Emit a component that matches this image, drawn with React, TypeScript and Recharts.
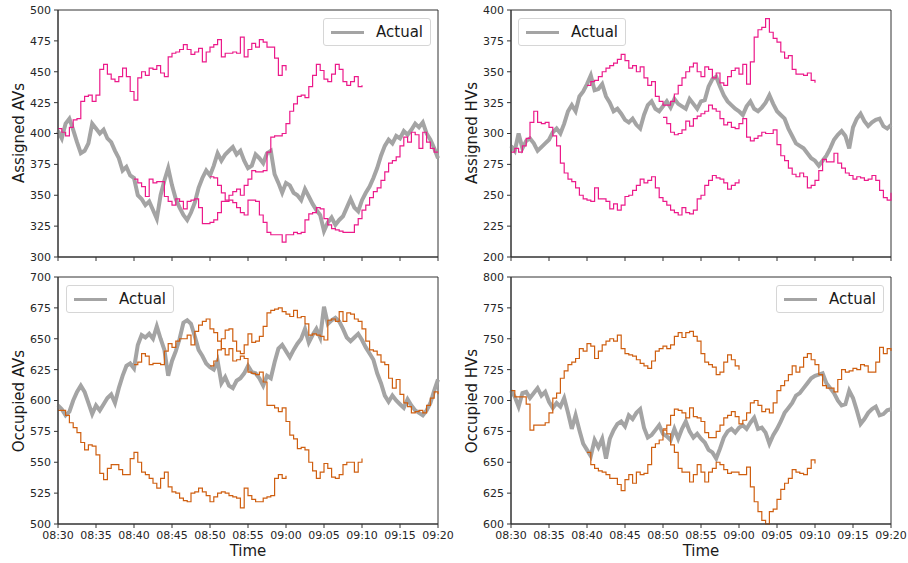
import React from 'react';
import { LineChart, Line, XAxis, YAxis, ReferenceArea } from 'recharts';

// time axis: minutes after 08:30, sampled every half minute
const STEP_MIN = 0.5;
const PRED_START_MIN = [0, 10, 20];
const TIME_TICKS = [0, 5, 10, 15, 20, 25, 30, 35, 40, 45, 50];
const TIME_LABELS = ['08:30', '08:35', '08:40', '08:45', '08:50', '08:55', '09:00', '09:05', '09:10', '09:15', '09:20'];

const ASSIGNED_AV_TICKS = [300, 325, 350, 375, 400, 425, 450, 475, 500];
const ASSIGNED_HV_TICKS = [200, 225, 250, 275, 300, 325, 350, 375, 400];
const OCCUPIED_AV_TICKS = [500, 525, 550, 575, 600, 625, 650, 675, 700];
const OCCUPIED_HV_TICKS = [600, 625, 650, 675, 700, 725, 750, 775, 800];

// ---- Assigned AVs ----
const assignedAvActual = [
  402, 396, 408, 412, 403, 393, 384, 386, 392, 408,
  404, 400, 403, 396, 393, 386, 380, 370, 373, 366,
  364, 350, 347, 342, 345, 338, 331, 350, 362, 372,
  358, 347, 340, 334, 330, 336, 344, 356, 364, 370,
  366, 374, 384, 378, 383, 386, 389, 383, 386, 378,
  372, 374, 383, 380, 376, 384, 386, 367, 360, 352,
  360, 358, 352, 350, 346, 355, 349, 343, 338, 334,
  321, 328, 332, 326, 330, 333, 340, 347, 340, 337,
  346, 352, 357, 364, 372, 382, 390, 395, 392, 398,
  396, 402, 399, 403, 408, 405, 409, 400, 395, 388,
  380,
];
const assignedAvPredA = [
  404, 401, 398, 405, 411, 412, 426, 430, 431, 426,
  431, 452, 456, 448, 444, 442, 446, 453, 446, 434,
  427, 445, 450, 447, 453, 452, 455, 449, 446, 462,
  465, 466, 468, 472, 468, 464, 466, 469, 458, 466,
  470, 472, 476, 462, 465, 465, 466, 465, 478, 462,
  468, 473, 470, 476, 474, 470, 470, 461, 447, 455,
  451,
];
const assignedAvPredB = [
  363, 360, 357, 349, 363, 360, 361, 361, 349, 345,
  342, 347, 345, 339, 345, 346, 347, 340, 327, 327,
  328, 330, 336, 345, 345, 350, 353, 355, 350, 358,
  363, 370, 369, 369, 370, 385, 397, 398, 398, 400,
  408, 418, 424, 430, 431, 429, 438, 447, 456, 451,
  444, 442, 448, 456, 452, 442, 439, 442, 446, 438,
  439,
];
const assignedAvPredC = [
  365, 364, 358, 352, 346, 346, 344, 340, 336, 334,
  346, 346, 345, 334, 328, 320, 318, 318, 318, 312,
  318, 318, 320, 319, 320, 330, 335, 336, 340, 339,
  331, 326, 323, 322, 321, 320, 320, 320, 326, 331,
  338, 342, 348, 353, 356, 362, 369, 376, 378, 381,
  390, 397, 393, 401, 399, 388, 401, 393, 388, 385,
  385,
];

// ---- Assigned HVs ----
const assignedHvActual = [
  290, 286, 300, 288, 294, 296, 292, 286, 289, 292,
  295, 301, 304, 300, 308, 318, 323, 318, 330, 334,
  340, 347, 335, 336, 340, 330, 325, 318, 320, 316,
  311, 309, 312, 307, 304, 315, 323, 326, 320, 318,
  322, 326, 321, 328, 324, 322, 320, 328, 324, 320,
  326, 327, 338, 344, 346, 338, 331, 326, 323, 320,
  318, 315, 322, 326, 320, 318, 321, 325, 331, 324,
  318, 315, 312, 304, 298, 292, 290, 288, 284, 280,
  278, 274, 278, 282, 288, 295, 299, 302, 298, 288,
  305, 312, 316, 310, 306, 309, 311, 312, 306, 304,
  307,
];
const assignedHvPredA = [
  285, 288, 285, 290, 296, 309, 318, 309, 308, 309,
  305, 298, 290, 276, 268, 263, 261, 256, 250, 247,
  246, 245, 256, 247, 247, 245, 239, 243, 238, 242,
  249, 250, 254, 258, 263, 260, 262, 265, 256, 248,
  245, 242, 238, 236, 234, 240, 236, 235, 238, 247,
  250, 258, 262, 266, 264, 263, 260, 255, 258, 260,
  263,
];
const assignedHvPredB = [
  339, 342, 343, 346, 350, 353, 355, 357, 360, 364,
  359, 353, 355, 350, 354, 345, 339, 342, 330, 326,
  323, 323, 326, 332, 339, 345, 350, 354, 357, 350,
  346, 354, 352, 345, 349, 341, 339, 346, 351, 353,
  348, 356, 340, 358, 378, 384, 386, 393, 382, 377,
  374, 366, 361, 363, 352, 348, 348, 347, 349, 343,
  341,
];
const assignedHvPredC = [
  313, 308, 301, 299, 300, 303, 310, 306, 312, 314,
  316, 318, 323, 320, 318, 312, 307, 309, 305, 304,
  308, 312, 297, 294, 296, 298, 301, 300, 300, 303,
  291, 282, 278, 272, 267, 265, 268, 265, 256, 258,
  262, 270, 279, 277, 277, 284, 276, 272, 268, 266,
  263, 265, 264, 262, 263, 266, 262, 254, 248, 246,
  252,
];

// ---- Occupied AVs ----
const occupiedAvActual = [
  596, 593, 588, 591, 600, 607, 612, 607, 598, 589,
  596, 592, 597, 602, 605, 598, 610, 620, 628, 630,
  626, 645, 653, 651, 654, 650, 660, 650, 641, 620,
  632, 640, 650, 663, 665, 662, 652, 641, 636, 630,
  627, 625, 632, 614, 619, 612, 610, 616, 618, 622,
  628, 623, 622, 618, 612, 620, 618, 631, 642, 645,
  640, 635, 641, 646, 650, 658, 647, 653, 658, 651,
  676, 662, 665, 667, 664, 658, 651, 648, 651, 654,
  649, 643, 638, 633, 622, 614, 604, 599, 604, 600,
  597, 594, 601, 596, 592, 590, 588, 592, 598, 608,
  617,
];
const occupiedAvPredA = [
  592, 592, 588, 582, 578, 574, 566, 560, 564, 563,
  556, 541, 536, 545, 548, 548, 544, 540, 540, 553,
  558, 550, 542, 540, 537, 533, 529, 537, 542, 530,
  526, 525, 521, 519, 518, 525, 526, 529, 526, 523,
  518, 522, 525, 526, 525, 523, 522, 521, 513, 529,
  523, 520, 518, 518, 521, 522, 523, 537, 540, 537,
  539,
];
const occupiedAvPredB = [
  629, 631, 638, 636, 629, 630, 630, 629, 640, 646,
  643, 648, 650, 650, 653, 645, 656, 661, 664, 666,
  658, 655, 648, 642, 637, 642, 632, 633, 636, 634,
  623, 622, 621, 623, 615, 596, 596, 594, 591, 594,
  583, 572, 569, 561, 562, 560, 550, 543, 537, 542,
  549, 545, 538, 537, 540, 548, 550, 550, 542, 550,
  553,
];
const occupiedAvPredC = [
  628, 632, 641, 650, 657, 658, 648, 640, 638, 645,
  654, 647, 648, 652, 660, 671, 673, 674, 675, 672,
  670, 668, 673, 667, 668, 662, 653, 654, 653, 652,
  649, 665, 666, 664, 672, 664, 671, 670, 666, 664,
  658, 648, 641, 640, 637, 631, 629, 618, 610, 617,
  605, 598, 595, 590, 591, 592, 590, 596, 602, 607,
  605,
];

// ---- Occupied HVs ----
const occupiedHvActual = [
  708, 703, 695, 706, 707, 702, 706, 710, 704, 707,
  699, 694, 698, 695, 702, 690, 677, 688, 676, 665,
  660, 655, 668, 662, 669, 653, 669, 676, 681, 683,
  679, 688, 685, 690, 693, 678, 670, 672, 676, 680,
  673, 671, 668, 677, 669, 677, 683, 675, 670, 673,
  669, 666, 660, 658, 653, 661, 670, 675, 677, 674,
  678, 680, 677, 682, 686, 677, 678, 674, 665, 672,
  677, 683, 690, 694, 698, 704, 706, 710, 714, 718,
  720, 721, 722, 714, 710, 706, 700, 696, 697, 708,
  702, 692, 681, 685, 690, 693, 695, 688, 689, 692,
  693,
];
const occupiedHvPredA = [
  708, 703, 703, 703, 697, 676, 680, 680, 680, 682,
  690, 702, 706, 718, 724, 729, 731, 734, 742, 740,
  746, 744, 734, 740, 745, 748, 750, 748, 753, 742,
  738, 737, 736, 733, 730, 728, 726, 732, 740, 742,
  744, 742, 745, 752, 755, 751, 755, 756, 752, 748,
  738, 731, 729, 727, 721, 723, 731, 737, 733, 728,
  725,
];
const occupiedHvPredB = [
  658, 648, 645, 643, 642, 640, 637, 637, 632, 627,
  636, 640, 633, 642, 640, 641, 648, 662, 665, 668,
  676, 673, 664, 658, 645, 642, 642, 634, 640, 648,
  642, 634, 642, 645, 650, 648, 644, 641, 642, 642,
  640, 640, 646, 630, 618, 610, 603, 600, 610, 612,
  620, 628, 633, 637, 644, 642, 641, 640, 645, 652,
  649,
];
const occupiedHvPredC = [
  677, 680, 688, 693, 692, 690, 686, 694, 687, 686,
  683, 674, 670, 670, 675, 680, 686, 688, 691, 687,
  681, 684, 690, 698, 700, 696, 691, 693, 690, 698,
  708, 712, 716, 721, 728, 723, 727, 735, 738, 733,
  729, 721, 712, 710, 710, 707, 717, 725, 723, 724,
  726, 725, 729, 728, 723, 723, 731, 743, 738, 742,
  740,
];

const GRAY = '#a4a4a4';
const PINK = '#ec1a8a';
const ORANGE = '#cf5f10';
const AXIS = '#333333';
const FONT = '"DejaVu Sans", sans-serif';

function buildRows(actual: number[], preds: number[][]) {
  return actual.map((v, i) => {
    const row: Record<string, number | null> = { t: i * STEP_MIN, actual: v };
    preds.forEach((p, k) => {
      const j = i - PRED_START_MIN[k] / STEP_MIN;
      row['p' + k] = j >= 0 && j < p.length ? p[j] : null;
    });
    return row;
  });
}

type PanelProps = {
  left: number;
  top: number;
  width: number;
  height: number;
  marginRight: number;
  xAxisHeight: number;
  showXLabels: boolean;
  rows: Record<string, number | null>[];
  yTicks: number[];
  color: string;
};

function Panel(props: PanelProps) {
  const { left, top, width, height, marginRight, xAxisHeight, showXLabels, rows, yTicks, color } = props;
  const yMin = yTicks[0];
  const yMax = yTicks[yTicks.length - 1];
  return (
    <div style={{ position: 'absolute', left, top, width, height }}>
      <LineChart width={width} height={height} data={rows} margin={{ top: 10, right: marginRight, left: 8, bottom: 0 }} style={{ overflow: 'visible' }}>
        <XAxis
          dataKey="t"
          type="number"
          domain={[0, 50]}
          ticks={TIME_TICKS}
          interval={0}
          height={xAxisHeight}
          tickSize={4}
          tickMargin={3}
          tickFormatter={(v: number) => (showXLabels ? TIME_LABELS[TIME_TICKS.indexOf(v)] : '')}
          tick={{ fontSize: 11, fill: '#262626', fontFamily: FONT }}
          tickLine={{ stroke: AXIS }}
          axisLine={{ stroke: AXIS }}
        />
        <YAxis
          type="number"
          domain={[yMin, yMax]}
          ticks={yTicks}
          interval={0}
          width={50}
          tickSize={4}
          tickMargin={3}
          tick={{ fontSize: 11, fill: '#262626', fontFamily: FONT }}
          tickLine={{ stroke: AXIS }}
          axisLine={{ stroke: AXIS }}
        />
        <Line type="linear" dataKey="actual" stroke={GRAY} strokeWidth={4} strokeLinejoin="miter" dot={false} isAnimationActive={false} />
        <Line type="stepAfter" dataKey="p0" stroke={color} strokeWidth={1.2} dot={false} isAnimationActive={false} connectNulls={false} />
        <Line type="stepAfter" dataKey="p1" stroke={color} strokeWidth={1.2} dot={false} isAnimationActive={false} connectNulls={false} />
        <Line type="stepAfter" dataKey="p2" stroke={color} strokeWidth={1.2} dot={false} isAnimationActive={false} connectNulls={false} />
        <ReferenceArea x1={0} x2={50} y1={yMin} y2={yMax} fill="none" fillOpacity={0} stroke={AXIS} strokeWidth={1} />
      </LineChart>
    </div>
  );
}

function LegendBox({ left, top }: { left: number; top: number }) {
  return (
    <div
      style={{
        position: 'absolute',
        left,
        top,
        width: 106,
        height: 26,
        border: '1px solid #d6d6d6',
        borderRadius: 3,
        background: 'rgba(255,255,255,0.8)',
        display: 'flex',
        alignItems: 'center',
        fontFamily: FONT,
        fontSize: 15,
        color: '#1a1a1a',
      }}
    >
      <div style={{ marginLeft: 7, width: 33, height: 3, background: GRAY }} />
      <div style={{ marginLeft: 12, lineHeight: '26px' }}>Actual</div>
    </div>
  );
}

function YTitle({ text, cx, cy }: { text: string; cx: number; cy: number }) {
  return (
    <div
      style={{
        position: 'absolute',
        left: cx - 70,
        top: cy - 10,
        width: 140,
        height: 20,
        lineHeight: '20px',
        textAlign: 'center',
        transform: 'rotate(-90deg)',
        fontFamily: FONT,
        fontSize: 15,
        color: '#1a1a1a',
        whiteSpace: 'nowrap',
      }}
    >
      {text}
    </div>
  );
}

function XTitle({ text, cx, cy }: { text: string; cx: number; cy: number }) {
  return (
    <div
      style={{
        position: 'absolute',
        left: cx - 40,
        top: cy - 10,
        width: 80,
        height: 20,
        lineHeight: '20px',
        textAlign: 'center',
        fontFamily: FONT,
        fontSize: 15,
        color: '#1a1a1a',
      }}
    >
      {text}
    </div>
  );
}

export default function App() {
  const tl = buildRows(assignedAvActual, [assignedAvPredA, assignedAvPredB, assignedAvPredC]);
  const tr = buildRows(assignedHvActual, [assignedHvPredA, assignedHvPredB, assignedHvPredC]);
  const bl = buildRows(occupiedAvActual, [occupiedAvPredA, occupiedAvPredB, occupiedAvPredC]);
  const br = buildRows(occupiedHvActual, [occupiedHvPredA, occupiedHvPredB, occupiedHvPredC]);
  return (
    <div style={{ position: 'absolute', left: 0, top: 0, width: 908, height: 563, background: '#ffffff', overflow: 'hidden' }}>
      <Panel left={0} top={0} width={450} height={267} marginRight={12} xAxisHeight={10} showXLabels={false} rows={tl} yTicks={ASSIGNED_AV_TICKS} color={PINK} />
      <Panel left={453} top={0} width={455} height={267} marginRight={17} xAxisHeight={10} showXLabels={false} rows={tr} yTicks={ASSIGNED_HV_TICKS} color={PINK} />
      <Panel left={0} top={267} width={462} height={296} marginRight={24} xAxisHeight={39} showXLabels={true} rows={bl} yTicks={OCCUPIED_AV_TICKS} color={ORANGE} />
      <Panel left={453} top={267} width={455} height={296} marginRight={17} xAxisHeight={39} showXLabels={true} rows={br} yTicks={OCCUPIED_HV_TICKS} color={ORANGE} />
      <LegendBox left={323} top={18} />
      <LegendBox left={518} top={18} />
      <LegendBox left={66} top={285} />
      <LegendBox left={776} top={285} />
      <YTitle text="Assigned AVs" cx={19} cy={133} />
      <YTitle text="Assigned HVs" cx={472} cy={133} />
      <YTitle text="Occupied AVs" cx={19} cy={401} />
      <YTitle text="Occupied HVs" cx={472} cy={401} />
      <XTitle text="Time" cx={248} cy={551} />
      <XTitle text="Time" cx={701} cy={551} />
    </div>
  );
}
